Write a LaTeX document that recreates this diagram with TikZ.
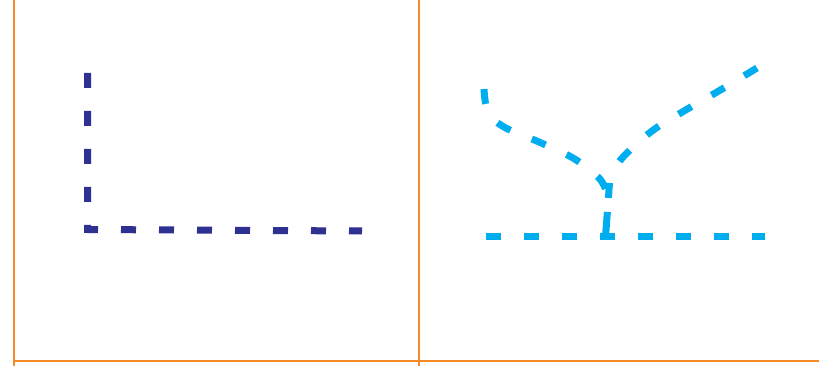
\documentclass[tikz,border=0pt]{standalone}
\definecolor{frameor}{HTML}{F58A2A}
\definecolor{darkbl}{HTML}{2E3192}
\definecolor{cyanbl}{HTML}{00AEEF}
\tikzset{
  framel/.style={draw=frameor,line width=1.6},
  dashbl/.style={draw=darkbl,line width=7,dash pattern=on 15 off 23},
  dashcy/.style={draw=cyanbl,line width=7,dash pattern=on 15 off 23}
}
\begin{document}
\begin{tikzpicture}[x=1pt,y=-1pt]
\useasboundingbox (0,0) rectangle (819,366);
% frame lines
\coordinate (lt) at (14,-2);
\coordinate (lb) at (14,368);
\coordinate (mt) at (419,-2);
\coordinate (mb) at (419,368);
\coordinate (hl) at (14,361);
\coordinate (hr) at (821,361);
\draw[framel] (lt) -- (lb);
\draw[framel] (mt) -- (mb);
\draw[framel] (hl) -- (hr);
% left panel L
\coordinate (a1) at (87.5,73);
\coordinate (a2) at (87.5,229.5);
\coordinate (a3) at (362,231);
\draw[dashbl,line join=miter] (a1) -- (a2) -- (a3);
% right panel
\coordinate (h1) at (486,236);
\coordinate (h2) at (765,236);
\draw[dashcy] (h1) -- (h2);
\coordinate (j) at (609.5,183);
\coordinate (cb) at (605.5,237);
\draw[dashcy,dash pattern=on 15 off 14 on 30] (j) -- (cb);
\draw[dashcy] plot[smooth,tension=0.6] coordinates {(484,89) (488,112) (504,127) (539,142) (573,158) (598,177) (606,190)};
\draw[dashcy] plot[smooth,tension=0.6] coordinates {(757,68) (717,92) (684,111) (652,131) (624,156) (614,170)};
\end{tikzpicture}
\end{document}
